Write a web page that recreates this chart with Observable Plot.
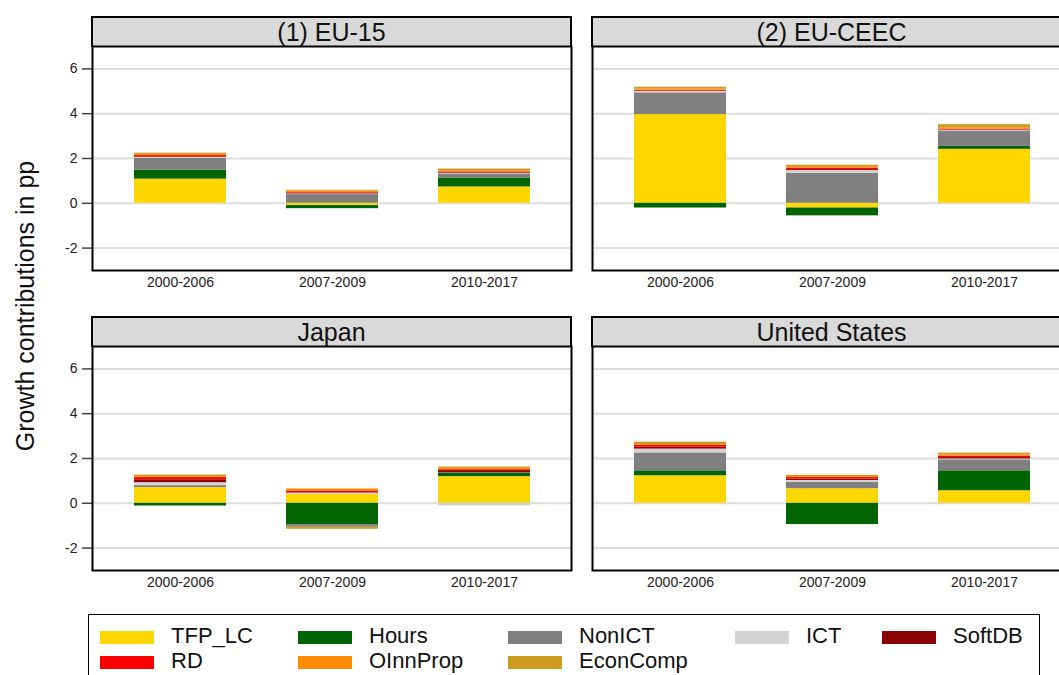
<!DOCTYPE html>
<html>
<head>
<meta charset="utf-8">
<script src="https://cdn.jsdelivr.net/npm/d3@7"></script>
<script src="https://cdn.jsdelivr.net/npm/@observablehq/plot@0.6"></script>
<style>
  html, body { margin: 0; padding: 0; background: #fff; overflow: hidden; }
  body { font-family: "Liberation Sans", Arial, sans-serif; }
  #root { position: relative; width: 1059px; height: 675px; overflow: hidden; }
  .hdr { position: absolute; height: 31px; box-sizing: border-box; border: 2px solid #000;
         border-bottom: none; background: #d9d9d9; text-align: center; font-size: 25px;
         line-height: 29px; color: #111; }
  .pl { position: absolute; }
  #ytitle { position: absolute; left: 25px; top: 306px; transform: translate(-50%, -50%) rotate(-90deg);
            white-space: nowrap; font-size: 25px; color: #111; }
  #legend { position: absolute; left: 88px; top: 614px; width: 952px; height: 90px;
            box-sizing: border-box; border: 1.5px solid #000; }
  .sw { position: absolute; width: 54px; height: 13px; }
  .lt { position: absolute; font-size: 22px; color: #111; line-height: 22px; white-space: nowrap; }
</style>
</head>
<body>
<div id="root">
  <div id="ytitle">Growth contributions in pp</div>
  <div id="legend"></div>
</div>
<script>
// ---- data ----
const periods = ["2000-2006", "2007-2009", "2010-2017"];
const panelTitles = ["(1) EU-15", "(2) EU-CEEC", "Japan", "United States"];
const components = ["TFP_LC", "Hours", "NonICT", "ICT", "SoftDB", "RD", "OInnProp", "EconComp"];
const colors = ["#FFD700", "#006400", "#808080", "#D3D3D3", "#8B0000", "#FF0000", "#FF8C00", "#CD9B1D"];
const yTicks = [-2, 0, 2, 4, 6];

// rows follow `components`, columns follow `periods`
const eu15Values = [
  [1.08, -0.10, 0.73],
  [0.40, -0.14, 0.40],
  [0.53, 0.39, 0.18],
  [0.04, 0.03, 0.03],
  [0.03, 0.03, 0.03],
  [0.05, 0.03, 0.03],
  [0.06, 0.06, 0.06],
  [0.05, 0.04, 0.07]
];
const ceecValues = [
  [3.96, -0.21, 2.41],
  [-0.21, -0.35, 0.13],
  [0.97, 1.34, 0.69],
  [0.06, 0.13, 0.03],
  [0.02, 0.04, 0.01],
  [0.04, 0.06, 0.04],
  [0.06, 0.07, 0.06],
  [0.07, 0.06, 0.14]
];
const japanValues = [
  [0.70, 0.39, 1.19],
  [-0.12, -0.95, 0.14],
  [0.09, -0.12, 0.04],
  [0.13, 0.07, -0.12],
  [0.13, 0.02, 0.09],
  [0.10, 0.07, 0.04],
  [0.04, 0.09, 0.06],
  [0.07, -0.09, 0.06]
];
const usValues = [
  [1.23, 0.65, 0.56],
  [0.22, -0.95, 0.89],
  [0.80, 0.28, 0.49],
  [0.17, 0.09, 0.04],
  [0.08, 0.06, 0.06],
  [0.08, 0.07, 0.07],
  [0.04, 0.04, 0.04],
  [0.11, 0.06, 0.09]
];
const panelValues = [eu15Values, ceecValues, japanValues, usValues];

// ---- layout ----
const root = document.getElementById("root");
const plotW = 479, plotH = 224, mL = 60, mR = 3, mT = 1, mB = 36;
const origins = [[92, 46], [592, 46], [92, 346], [592, 346]];

panelValues.forEach((vals, k) => {
  const [px, py] = origins[k];
  const title = panelTitles[k];
  const data = components.flatMap((c, i) => periods.map((p, j) => ({component: c, period: p, value: vals[i][j]})));

  const hdr = document.createElement("div");
  hdr.className = "hdr";
  hdr.textContent = title;
  hdr.style.left = (px - 1) + "px";
  hdr.style.top = (py - 30) + "px";
  hdr.style.width = (plotW + 2) + "px";
  root.appendChild(hdr);

  const showY = k % 2 === 0;
  const chart = Plot.plot({
    width: mL + plotW + mR,
    height: mT + plotH + mB,
    marginLeft: mL, marginRight: mR, marginTop: mT, marginBottom: mB,
    style: {fontFamily: "'Liberation Sans', Arial, sans-serif", color: "#222", background: "transparent"},
    x: {type: "band", domain: periods, paddingInner: 0.395, paddingOuter: 0.27},
    y: {domain: [-3, 7]},
    color: {domain: components, range: colors},
    marks: [
      Plot.gridY(yTicks, {stroke: "#dedede", strokeOpacity: 1, strokeWidth: 2}),
      Plot.barY(data, {x: "period", y: "value", fill: "component"}),
      Plot.axisX({tickSize: 0, tickPadding: 7, fontSize: 14, label: null}),
      showY
        ? Plot.axisY(yTicks, {tickSize: 10, tickPadding: 5, fontSize: 14, stroke: "#444", strokeWidth: 1.5,
                              tickFormat: d => String(d), label: null})
        : Plot.axisY(yTicks, {tickSize: 0, tickFormat: () => "", label: null}),
      Plot.frame({stroke: "#000", strokeWidth: 2})
    ]
  });
  chart.classList.add("pl");
  chart.style.left = (px - mL) + "px";
  chart.style.top = (py - mT) + "px";
  root.appendChild(chart);
});

// ---- legend ----
const legend = document.getElementById("legend");
const colX = [99, 297, 507, 734, 881];
const rowY = [630, 655];
components.forEach((c, i) => {
  const col = i % 5, row = Math.floor(i / 5);
  const sw = document.createElement("div");
  sw.className = "sw";
  sw.style.background = colors[i];
  sw.style.left = (colX[col] - 88) + "px";
  sw.style.top = (rowY[row] - 614) + "px";
  legend.appendChild(sw);
  const t = document.createElement("div");
  t.className = "lt";
  t.textContent = c;
  t.style.left = (colX[col] - 88 + 71) + "px";
  t.style.top = (rowY[row] - 614 - 6) + "px";
  legend.appendChild(t);
});
</script>
</body>
</html>
